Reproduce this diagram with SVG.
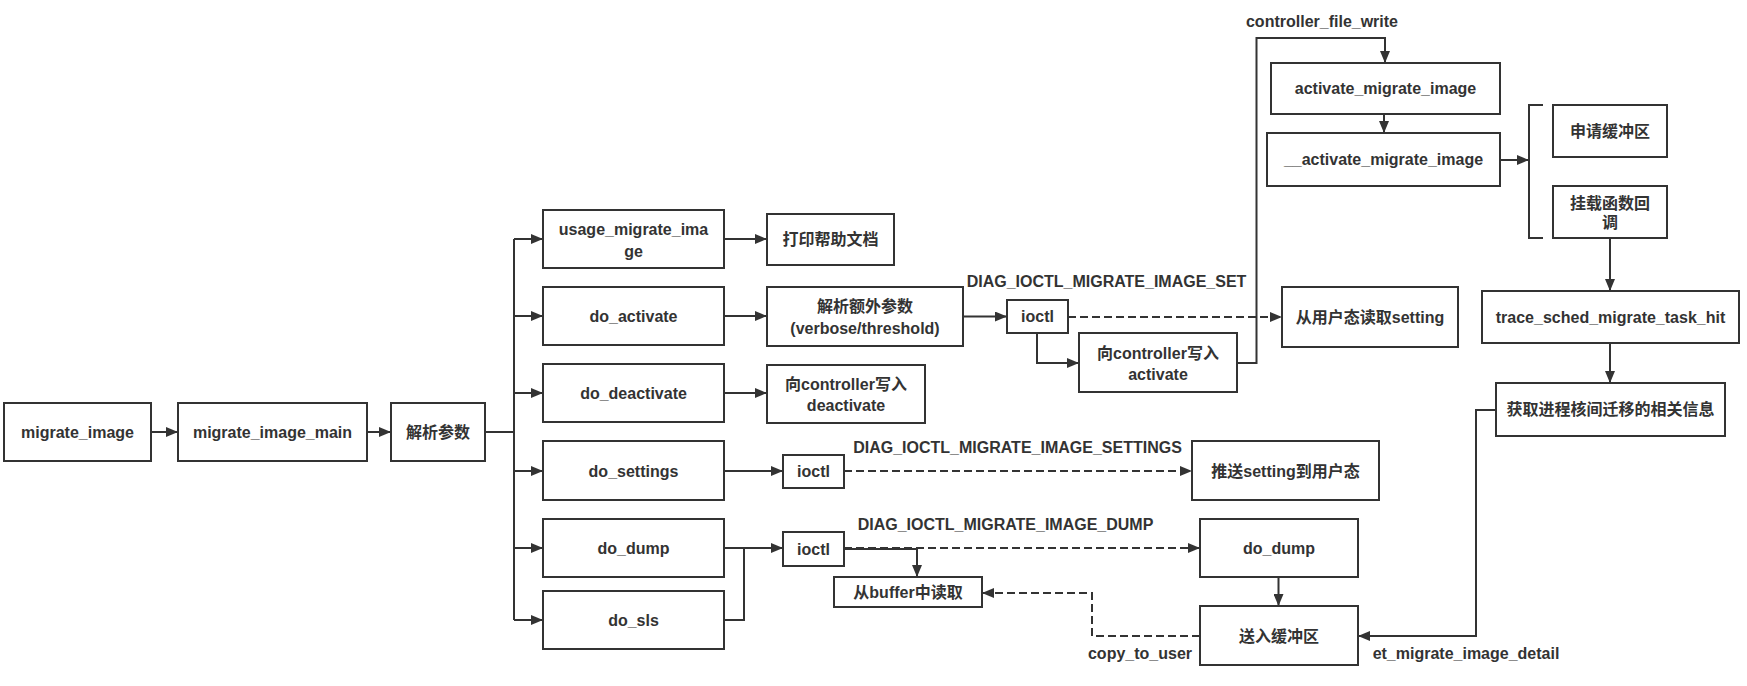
<svg xmlns="http://www.w3.org/2000/svg" width="1747" height="686" viewBox="0 0 1747 686">
<style>
.box{fill:#fff;stroke:#333;stroke-width:2}
.t{font-family:"Liberation Sans","Noto Sans CJK SC",sans-serif;font-weight:bold;font-size:16px;fill:#333;text-anchor:middle;dominant-baseline:central}
.lbl{font-family:"Liberation Sans","Noto Sans CJK SC",sans-serif;font-weight:bold;font-size:16px;fill:#333;text-anchor:middle;dominant-baseline:central}
.ln{fill:none;stroke:#333;stroke-width:2}
.ar{marker-end:url(#arr)}
.dash{stroke-dasharray:8 4}
</style>
<defs>
<marker id="arr" markerUnits="userSpaceOnUse" markerWidth="12" markerHeight="10" refX="11" refY="5" orient="auto">
<path d="M0,0 L12,5 L0,10 Z" fill="#333"/>
</marker>
</defs>
<rect width="1747" height="686" fill="#fff"/>
<g id="connectors">
<path class="ln ar" d="M151,432 H177"/>
<path class="ln ar" d="M367,432 H390"/>
<path class="ln" d="M485,432 H514"/>
<path class="ln" d="M514,239 V620"/>
<path class="ln ar" d="M514,239 H542"/>
<path class="ln ar" d="M514,316 H542"/>
<path class="ln ar" d="M514,393 H542"/>
<path class="ln ar" d="M514,471 H542"/>
<path class="ln ar" d="M514,548 H542"/>
<path class="ln ar" d="M514,620 H542"/>
<path class="ln ar" d="M724,239 H766"/>
<path class="ln ar" d="M724,316 H766"/>
<path class="ln ar" d="M724,393 H766"/>
<path class="ln ar" d="M963,316.5 H1006"/>
<path class="ln dash ar" d="M1068,317 H1281"/>
<path class="ln ar" d="M1037,333 V363 H1078"/>
<path class="ln ar" d="M1237,363 H1256.5 V38 H1385 V62"/>
<path class="ln ar" d="M1384,114 V132"/>
<path class="ln ar" d="M1500,160 H1528"/>
<path class="ln" d="M1543,105 H1529 V238 H1543"/>
<path class="ln ar" d="M1610,238 V290"/>
<path class="ln ar" d="M1610,343 V382"/>
<path class="ln ar" d="M1496,410 H1476 V636 H1359"/>
<path class="ln ar" d="M724,471 H782"/>
<path class="ln dash ar" d="M844,471 H1191"/>
<path class="ln ar" d="M724,548 H782"/>
<path class="ln" d="M724,620 H744 V548"/>
<path class="ln ar" d="M844,549 H917 V576"/>
<path class="ln dash ar" d="M844,548 H1199"/>
<path class="ln ar" d="M1278.5,577 V605"/>
<path class="ln dash ar" d="M1200,636 H1092 V593 H983"/>
<text class="lbl" x="1106.5" y="281">DIAG_IOCTL_MIGRATE_IMAGE_SET</text>
<text class="lbl" x="1017.5" y="447">DIAG_IOCTL_MIGRATE_IMAGE_SETTINGS</text>
<text class="lbl" x="1005.5" y="524">DIAG_IOCTL_MIGRATE_IMAGE_DUMP</text>
<text class="lbl" x="1322" y="21">controller_file_write</text>
<text class="lbl" x="1140" y="653">copy_to_user</text>
<text class="lbl" x="1466" y="653">et_migrate_image_detail</text>
</g>
<g id="n_migrate_image"><rect class="box" x="4" y="403" width="147" height="58"/><text class="t" x="77.5" y="432">migrate_image</text></g>
<g id="n_migrate_image_main"><rect class="box" x="178" y="403" width="189" height="58"/><text class="t" x="272.5" y="432">migrate_image_main</text></g>
<g id="n_parse"><rect class="box" x="391" y="403" width="94" height="58"/><text class="t" x="438" y="432">解析参数</text></g>
<g id="n_usage"><rect class="box" x="543" y="210" width="181" height="58"/><text class="t" x="633.5" y="229">usage_migrate_ima</text><text class="t" x="633.5" y="251">ge</text></g>
<g id="n_help"><rect class="box" x="767" y="214" width="127" height="51"/><text class="t" x="830.5" y="239.5">打印帮助文档</text></g>
<g id="n_do_activate"><rect class="box" x="543" y="287" width="181" height="58"/><text class="t" x="633.5" y="316">do_activate</text></g>
<g id="n_parse_extra"><rect class="box" x="767" y="287" width="196" height="59"/><text class="t" x="865" y="306">解析额外参数</text><text class="t" x="865" y="328">(verbose/threshold)</text></g>
<g id="n_do_deactivate"><rect class="box" x="543" y="364" width="181" height="58"/><text class="t" x="633.5" y="393">do_deactivate</text></g>
<g id="n_write_deactivate"><rect class="box" x="767" y="365" width="158" height="58"/><text class="t" x="846" y="384">向controller写入</text><text class="t" x="846" y="405">deactivate</text></g>
<g id="n_do_settings"><rect class="box" x="543" y="441" width="181" height="59"/><text class="t" x="633.5" y="471">do_settings</text></g>
<g id="n_ioctl_settings"><rect class="box" x="783" y="455" width="61" height="33"/><text class="t" x="813.5" y="471.5">ioctl</text></g>
<g id="n_push_setting"><rect class="box" x="1192" y="441" width="187" height="59"/><text class="t" x="1285.5" y="471">推送setting到用户态</text></g>
<g id="n_do_dump"><rect class="box" x="543" y="519" width="181" height="58"/><text class="t" x="633.5" y="548">do_dump</text></g>
<g id="n_do_sls"><rect class="box" x="543" y="591" width="181" height="58"/><text class="t" x="633.5" y="620">do_sls</text></g>
<g id="n_ioctl_dump"><rect class="box" x="783" y="532" width="61" height="34"/><text class="t" x="813.5" y="549">ioctl</text></g>
<g id="n_read_buffer"><rect class="box" x="834" y="577" width="148" height="30"/><text class="t" x="908" y="592">从buffer中读取</text></g>
<g id="n_do_dump_k"><rect class="box" x="1200" y="519" width="158" height="58"/><text class="t" x="1279" y="548">do_dump</text></g>
<g id="n_to_buffer"><rect class="box" x="1200" y="606" width="158" height="59"/><text class="t" x="1279" y="636">送入缓冲区</text></g>
<g id="n_ioctl_activate"><rect class="box" x="1007" y="300" width="61" height="33"/><text class="t" x="1037.5" y="316.5">ioctl</text></g>
<g id="n_write_activate"><rect class="box" x="1079" y="333" width="158" height="59"/><text class="t" x="1158" y="353">向controller写入</text><text class="t" x="1158" y="374">activate</text></g>
<g id="n_read_setting"><rect class="box" x="1282" y="287" width="176" height="60"/><text class="t" x="1370" y="317">从用户态读取setting</text></g>
<g id="n_activate_mi"><rect class="box" x="1271" y="63" width="229" height="51"/><text class="t" x="1385.5" y="88.5">activate_migrate_image</text></g>
<g id="n___activate_mi"><rect class="box" x="1267" y="133" width="233" height="53"/><text class="t" x="1383.5" y="159.5">__activate_migrate_image</text></g>
<g id="n_alloc_buf"><rect class="box" x="1553" y="105" width="114" height="52"/><text class="t" x="1610" y="131">申请缓冲区</text></g>
<g id="n_hook"><rect class="box" x="1553" y="186" width="114" height="52"/><text class="t" x="1610" y="203">挂载函数回</text><text class="t" x="1610" y="222">调</text></g>
<g id="n_trace"><rect class="box" x="1482" y="291" width="257" height="52"/><text class="t" x="1610.5" y="317">trace_sched_migrate_task_hit</text></g>
<g id="n_get_info"><rect class="box" x="1496" y="383" width="229" height="53"/><text class="t" x="1610.5" y="409.5">获取进程核间迁移的相关信息</text></g>
</svg>
